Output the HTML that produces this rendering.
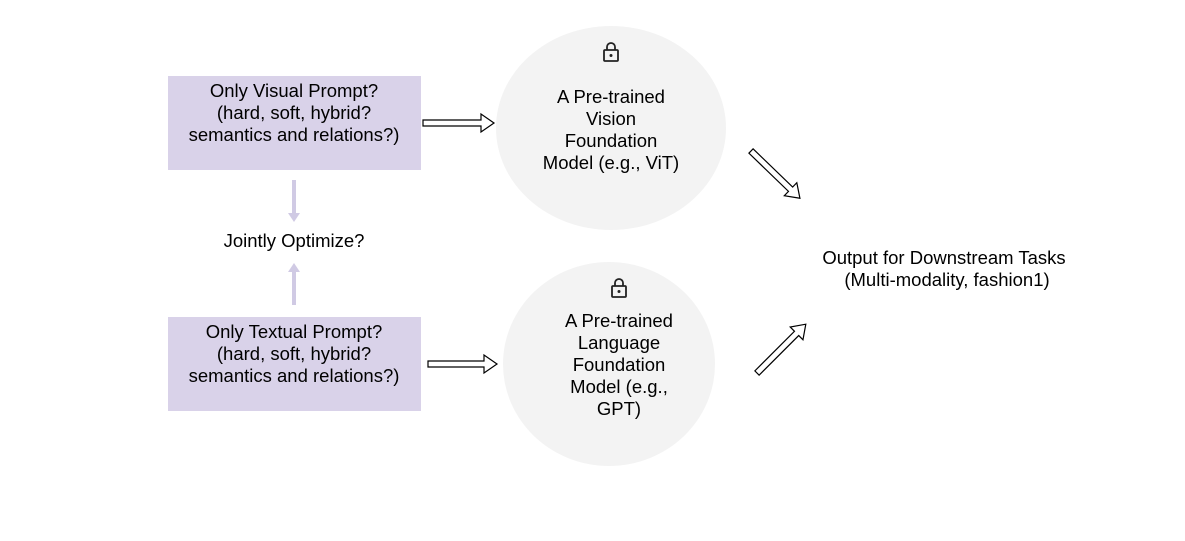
<!DOCTYPE html>
<html><head><meta charset="utf-8"><style>
body{margin:0;background:#fff;}
svg text{font-family:"Liberation Sans",Arial,sans-serif;font-size:18.5px;fill:#000;}
</style></head><body>
<svg width="1185" height="536" viewBox="0 0 1185 536" xmlns="http://www.w3.org/2000/svg">
<rect x="168" y="76" width="253" height="94" fill="#d9d2e9"/>
<rect x="168" y="317" width="253" height="94" fill="#d9d2e9"/>
<ellipse cx="611" cy="128" rx="115" ry="102" fill="#f3f3f3"/>
<ellipse cx="609" cy="364" rx="106" ry="102" fill="#f3f3f3"/>
<g text-anchor="middle">
<text x="294" y="97">Only Visual Prompt?</text>
<text x="294" y="119">(hard, soft, hybrid?</text>
<text x="294" y="141">semantics and relations?)</text>
<text x="294" y="338">Only Textual Prompt?</text>
<text x="294" y="360">(hard, soft, hybrid?</text>
<text x="294" y="382">semantics and relations?)</text>
<text x="294" y="247">Jointly Optimize?</text>
<text x="611" y="103">A Pre-trained</text>
<text x="611" y="125">Vision</text>
<text x="611" y="147">Foundation</text>
<text x="611" y="169">Model (e.g., ViT)</text>
<text x="619" y="327">A Pre-trained</text>
<text x="619" y="349">Language</text>
<text x="619" y="371">Foundation</text>
<text x="619" y="393">Model (e.g.,</text>
<text x="619" y="415">GPT)</text>
<text x="944" y="264">Output for Downstream Tasks</text>
<text x="947" y="286">(Multi-modality, fashion1)</text>
</g>
<g fill="none" stroke="#222" stroke-width="1.8">
<rect x="604" y="50" width="14" height="11" rx="1"/>
<path d="M607 50v-3a4 4 0 0 1 8 0v3"/>
<rect x="612" y="286" width="14" height="11" rx="1"/>
<path d="M615 286v-3a4 4 0 0 1 8 0v3"/>
</g>
<circle cx="611" cy="55.5" r="1.5" fill="#222"/>
<circle cx="619" cy="291.5" r="1.5" fill="#222"/>
<g fill="#fff" stroke="#000" stroke-width="1.2">
<path d="M423 120h58v-6l13 9-13 9v-6h-58z"/>
<path d="M428 361h56v-6l13 9-13 9v-6h-56z"/>
<g transform="translate(751,151) rotate(44)"><path d="M0 -3h55v-6l13 9-13 9v-6h-55z"/></g>
<g transform="translate(757,373) rotate(-45)"><path d="M0 -3h56v-6l13 9-13 9v-6h-56z"/></g>
</g>
<g stroke="#d0cae4" stroke-width="4" fill="#d0cae4">
<line x1="294" y1="180" x2="294" y2="215"/>
<line x1="294" y1="305" x2="294" y2="270"/>
</g>
<path d="M288 213l6 9 6-9z" fill="#d0cae4"/>
<path d="M288 272l6-9 6 9z" fill="#d0cae4"/>
</svg>
</body></html>
